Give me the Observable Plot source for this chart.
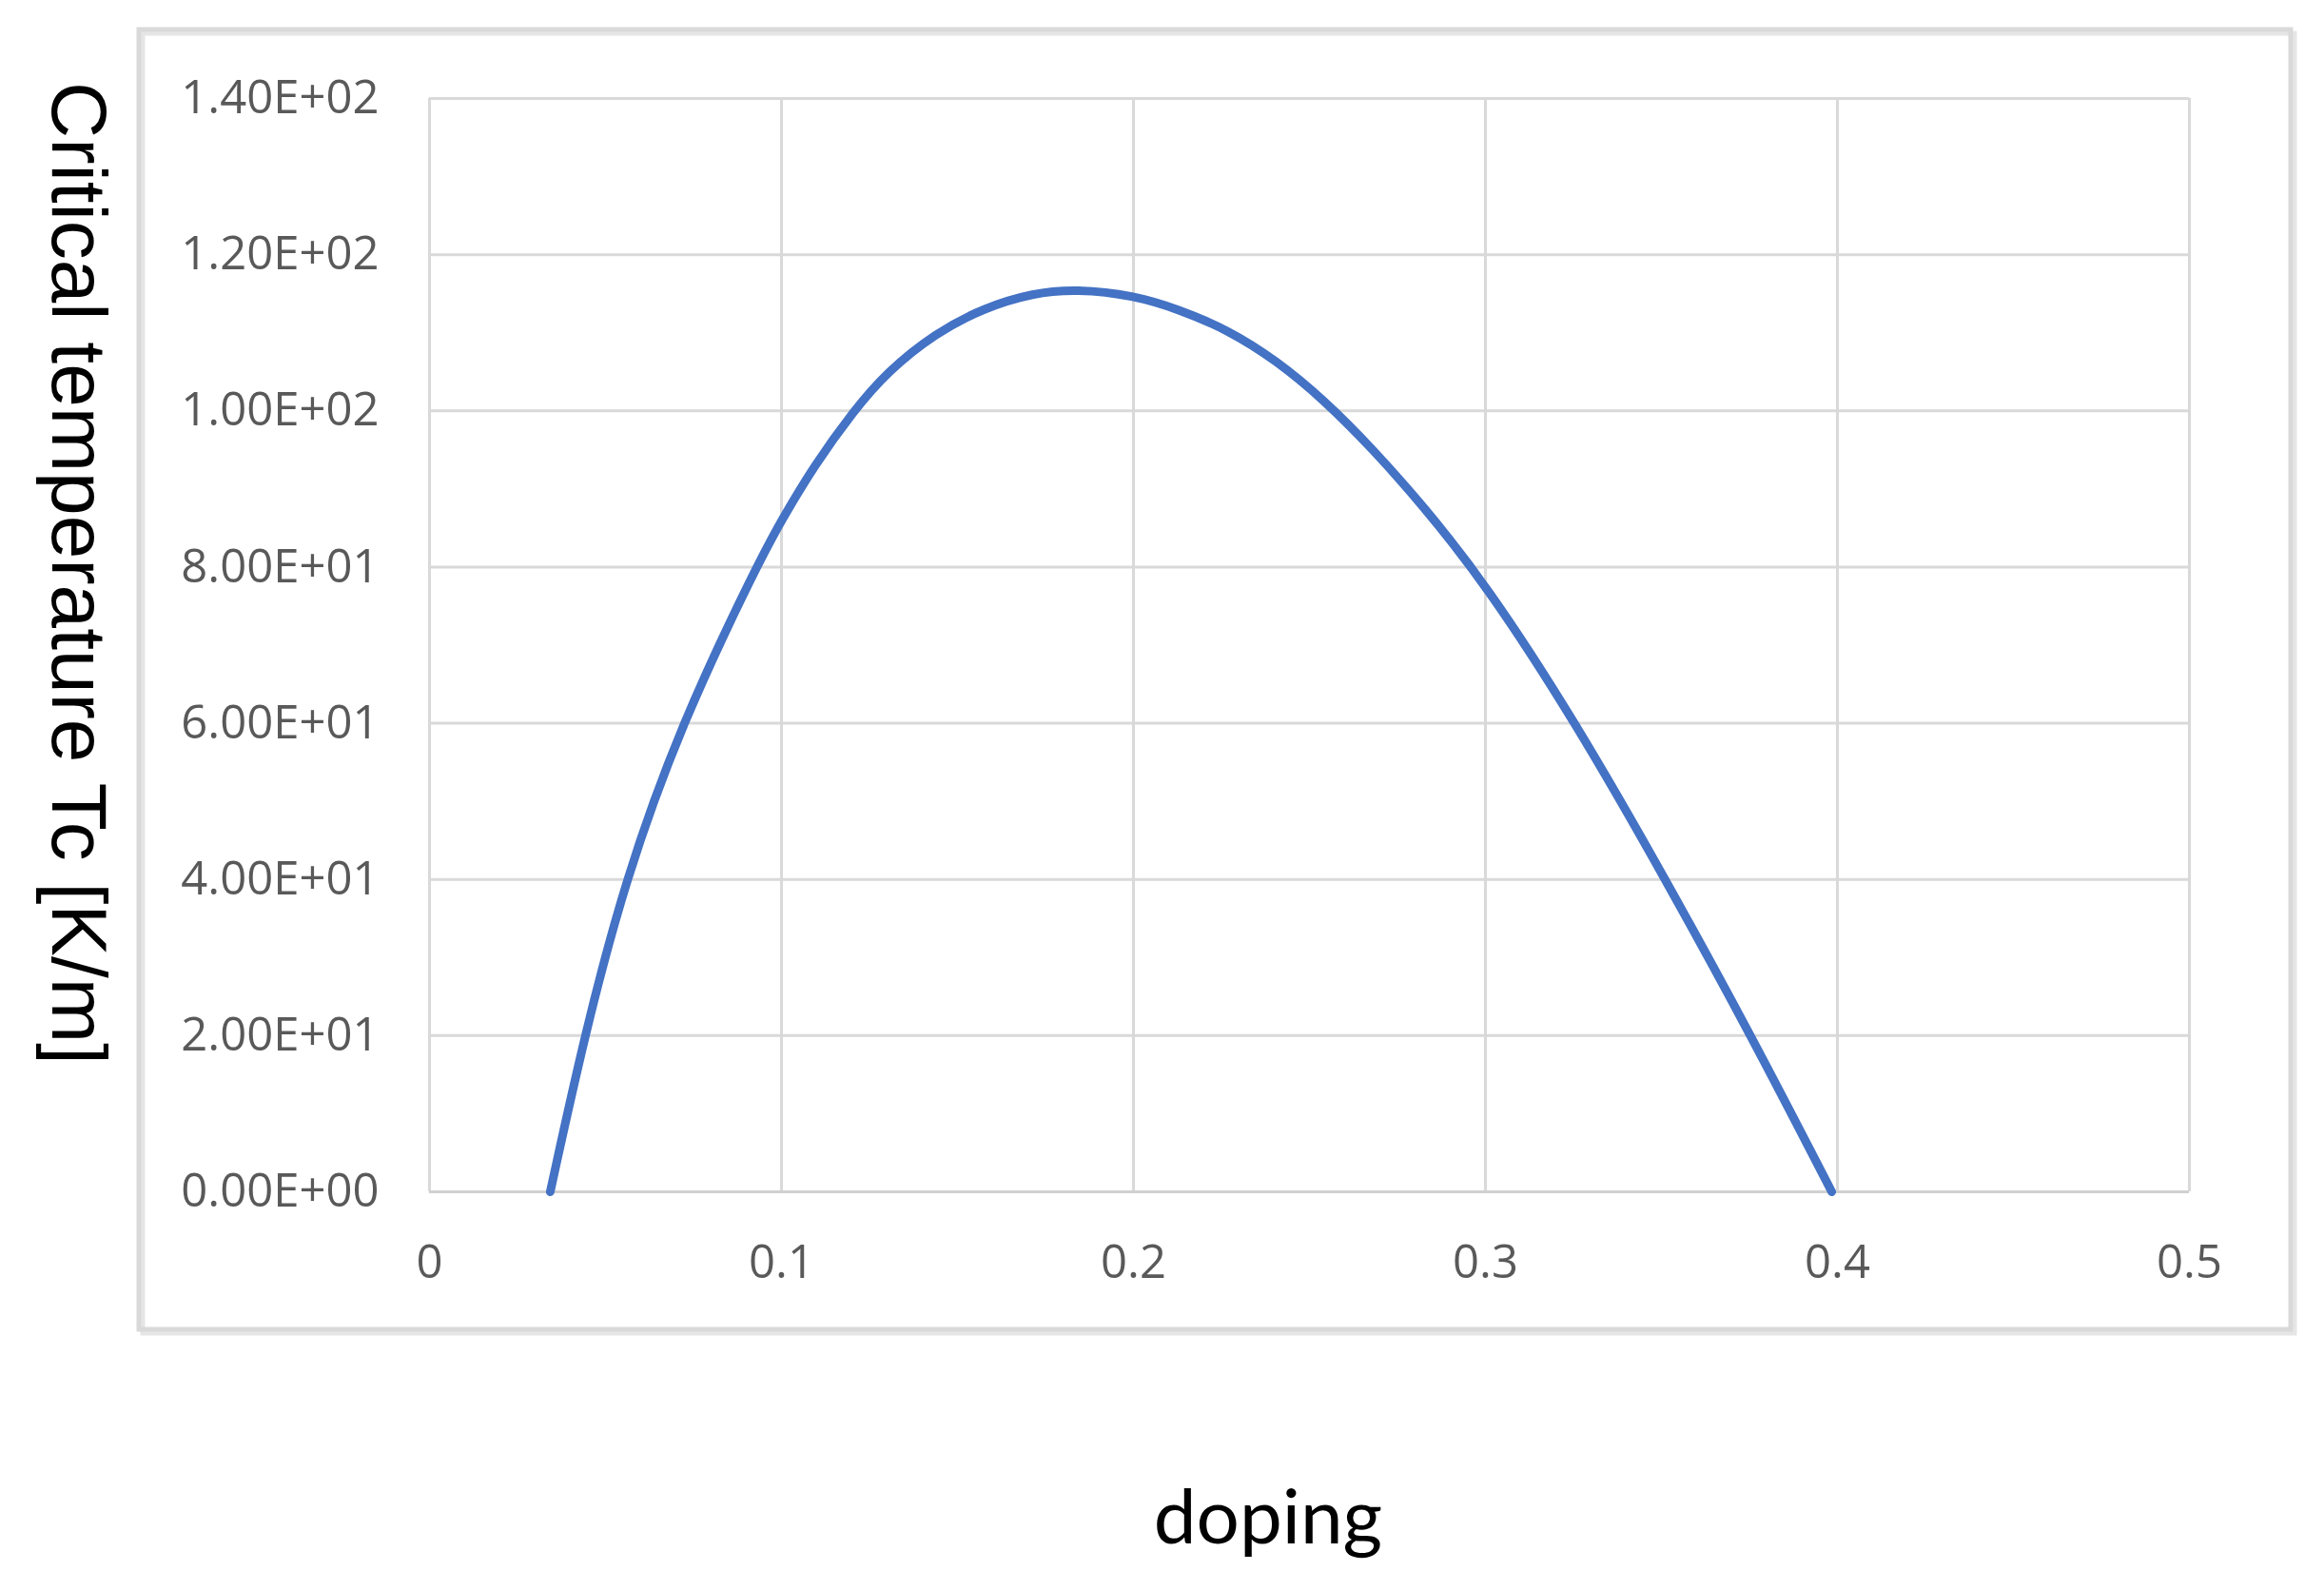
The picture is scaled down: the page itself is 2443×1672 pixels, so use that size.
<!DOCTYPE html>
<html><head><meta charset="utf-8">
<script src="https://cdn.jsdelivr.net/npm/d3@7"></script>
<script src="https://cdn.jsdelivr.net/npm/@observablehq/plot@0.6"></script>
<style>html,body{margin:0;padding:0;background:#fff;} #chart{width:2443px;height:1672px;}</style>
</head><body><div id="chart"></div>
<script>
// Data
const doping = [0.0343, 0.0440, 0.0556, 0.0716, 0.0928, 0.1000, 0.1093, 0.1205, 0.1300, 0.1438, 0.1576, 0.1715, 0.1839, 0.2000, 0.2129, 0.2267, 0.2405, 0.2544, 0.2682, 0.2820, 0.3000, 0.3258, 0.3512, 0.3755, 0.3984];
const tc = [0, 20, 40, 60, 80, 86, 93, 100, 105.0, 110, 113.2, 115.1, 115.6, 114.8, 113.0, 110.4, 106.5, 101.3, 95.0, 88.0, 77.9, 60, 40, 20, 0];
const yTicks = [0, 20, 40, 60, 80, 100, 120, 140];
const yTickLabels = ["0.00E+00", "2.00E+01", "4.00E+01", "6.00E+01", "8.00E+01", "1.00E+02", "1.20E+02", "1.40E+02"];
const xTicks = [0, 0.1, 0.2, 0.3, 0.4, 0.5];
const xTickLabels = ["0", "0.1", "0.2", "0.3", "0.4", "0.5"];
const yTitle = "Critical temperature Tc [K/m]";
const xTitle = "doping";

const data = doping.map((d, i) => ({doping: d, tc: tc[i]}));
const W = 2443, H = 1672;

const chart = Plot.plot({
  width: W, height: H,
  marginLeft: 451, marginRight: 142, marginTop: 103, marginBottom: 420,
  style: {background: "transparent", fontFamily: "'Open Sans', sans-serif", fontSize: "49px", color: "#595959", overflow: "visible"},
  x: {domain: [0, 0.5], label: null},
  y: {domain: [0, 140], label: null},
  marks: [
    Plot.gridX(xTicks, {stroke: "#d9d9d9", strokeWidth: 3, strokeOpacity: 1}),
    Plot.gridY(yTicks.slice(1), {stroke: "#d9d9d9", strokeWidth: 3, strokeOpacity: 1}),
    Plot.ruleY([0], {stroke: "#d0d0d0", strokeWidth: 3}),
    Plot.axisY(yTicks, {tickSize: 0, tickPadding: 53, label: null, fill: "#595959",
      tickFormat: d => yTickLabels[yTicks.indexOf(d)]}),
    Plot.axisX(xTicks, {tickSize: 0, tickPadding: 56, label: null, fill: "#595959",
      tickFormat: d => xTickLabels[xTicks.indexOf(d)]}),
    Plot.line(data, {x: "doping", y: "tc", stroke: "#4472C4", strokeWidth: 9, curve: "basis"})
  ]
});

const svg = d3.select(chart);
// chart area border with slight shadow
svg.insert("rect", ":first-child")
  .attr("x", 146).attr("y", 31).attr("width", 2262).attr("height", 1366)
  .attr("fill", "none").attr("stroke", "#d9d9d9").attr("stroke-width", 5);
svg.insert("rect", ":first-child")
  .attr("x", 150).attr("y", 35).attr("width", 2262).attr("height", 1366)
  .attr("fill", "none").attr("stroke", "#e6e6e6").attr("stroke-width", 5);

svg.append("text")
  .attr("transform", "translate(55,86) rotate(90)")
  .attr("text-anchor", "start")
  .attr("font-family", "'Liberation Sans', Arial, sans-serif")
  .attr("font-size", 82).attr("fill", "#000")
  .text(yTitle);

svg.append("text")
  .attr("x", 1333).attr("y", 1622)
  .attr("text-anchor", "middle")
  .attr("font-family", "Lato, sans-serif")
  .attr("font-size", 80).attr("fill", "#000")
  .text(xTitle);

document.getElementById("chart").appendChild(chart);
</script>
</body></html>
